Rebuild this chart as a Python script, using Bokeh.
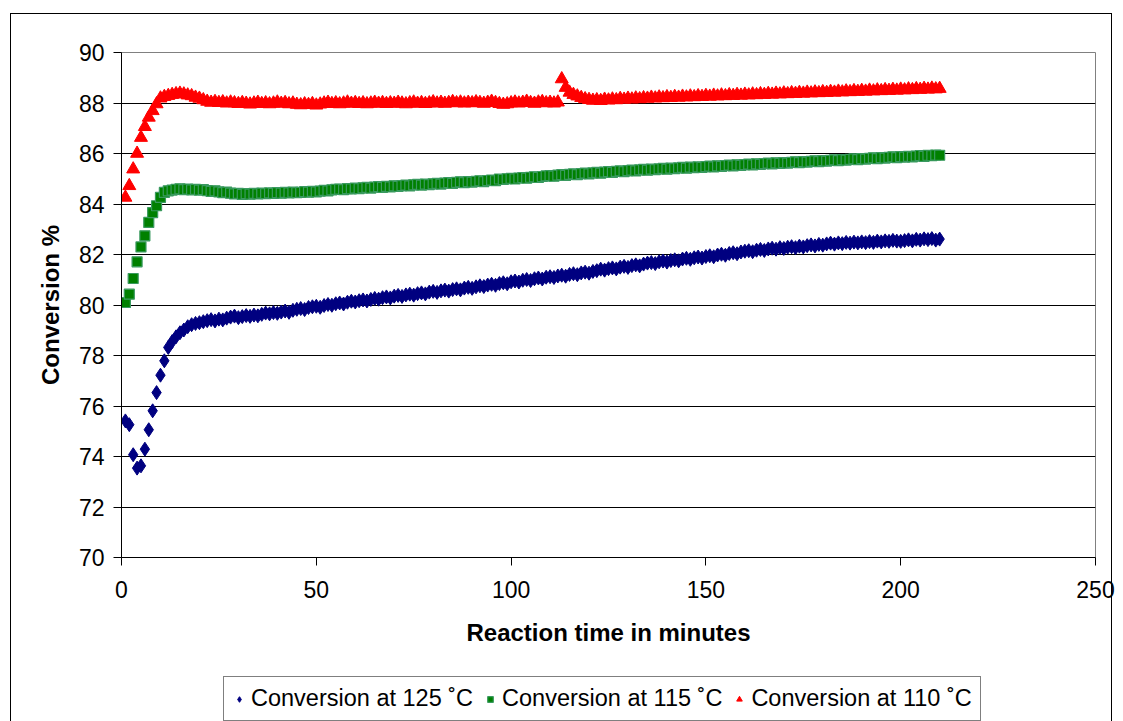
from bokeh.plotting import figure
from bokeh.layouts import column
from bokeh.models import Range1d, FixedTicker, Legend, LegendItem, InlineStyleSheet
from bokeh.embed import file_html
from bokeh.resources import INLINE

# Reaction time (minutes), one reading per minute
time_min = list(range(1, 211))

# Conversion % at 125 °C
conv_125 = [
    75.41, 75.26, 74.07, 73.54, 73.63, 74.29, 75.06, 75.81, 76.53, 77.22,
    77.79, 78.32, 78.55, 78.74, 78.90, 79.01, 79.14, 79.22, 79.27, 79.30,
    79.34, 79.38, 79.42, 79.37, 79.44, 79.41, 79.48, 79.52, 79.56, 79.50,
    79.54, 79.58, 79.55, 79.60, 79.57, 79.63, 79.68, 79.65, 79.70, 79.67,
    79.72, 79.76, 79.71, 79.79, 79.83, 79.86, 79.82, 79.90, 79.93, 79.95,
    79.91, 79.98, 80.02, 79.99, 80.05, 80.08, 80.04, 80.11, 80.15, 80.12,
    80.17, 80.20, 80.16, 80.22, 80.26, 80.23, 80.29, 80.32, 80.28, 80.35,
    80.38, 80.34, 80.40, 80.43, 80.39, 80.45, 80.48, 80.44, 80.51, 80.54,
    80.50, 80.56, 80.59, 80.55, 80.61, 80.64, 80.60, 80.67, 80.70, 80.66,
    80.72, 80.76, 80.73, 80.79, 80.82, 80.78, 80.85, 80.88, 80.84, 80.92,
    80.95, 80.91, 80.98, 81.01, 80.97, 81.04, 81.07, 81.03, 81.10, 81.12,
    81.09, 81.15, 81.18, 81.14, 81.21, 81.24, 81.20, 81.27, 81.30, 81.26,
    81.33, 81.36, 81.42, 81.38, 81.44, 81.47, 81.43, 81.50, 81.53, 81.49,
    81.56, 81.59, 81.55, 81.62, 81.66, 81.68, 81.64, 81.71, 81.74, 81.70,
    81.76, 81.79, 81.75, 81.82, 81.85, 81.81, 81.87, 81.90, 81.86, 81.92,
    81.95, 81.91, 81.98, 82.01, 81.97, 82.04, 82.07, 82.03, 82.10, 82.13,
    82.15, 82.11, 82.17, 82.20, 82.16, 82.22, 82.25, 82.21, 82.27, 82.24,
    82.29, 82.31, 82.27, 82.33, 82.30, 82.35, 82.38, 82.34, 82.40, 82.37,
    82.42, 82.45, 82.41, 82.46, 82.43, 82.48, 82.45, 82.49, 82.46, 82.50,
    82.47, 82.51, 82.48, 82.53, 82.50, 82.54, 82.52, 82.56, 82.53, 82.52,
    82.55, 82.58, 82.54, 82.60, 82.57, 82.62, 82.59, 82.63, 82.57, 82.61,
]

# Conversion % at 115 °C
conv_115 = [
    80.10, 80.43, 81.05, 81.71, 82.30, 82.74, 83.27, 83.66, 83.93, 84.26,
    84.46, 84.52, 84.55, 84.58, 84.60, 84.57, 84.59, 84.56, 84.58, 84.55,
    84.57, 84.53, 84.50, 84.52, 84.48, 84.45, 84.47, 84.43, 84.40, 84.42,
    84.38, 84.41, 84.39, 84.42, 84.40, 84.43, 84.41, 84.44, 84.42, 84.45,
    84.43, 84.46, 84.44, 84.47, 84.45, 84.46, 84.49, 84.47, 84.50, 84.48,
    84.51, 84.54, 84.52, 84.56, 84.58, 84.59, 84.57, 84.61, 84.60, 84.63,
    84.61, 84.64, 84.66, 84.63, 84.67, 84.69, 84.66, 84.70, 84.68, 84.72,
    84.70, 84.73, 84.75, 84.72, 84.76, 84.78, 84.75, 84.79, 84.77, 84.80,
    84.82, 84.79, 84.83, 84.85, 84.82, 84.86, 84.88, 84.85, 84.89, 84.87,
    84.90, 84.92, 84.89, 84.93, 84.95, 84.92, 84.99, 84.97, 85.00, 85.02,
    84.99, 85.03, 85.05, 85.02, 85.06, 85.08, 85.05, 85.09, 85.11, 85.12,
    85.10, 85.14, 85.16, 85.13, 85.17, 85.19, 85.16, 85.20, 85.22, 85.19,
    85.23, 85.25, 85.22, 85.26, 85.28, 85.25, 85.29, 85.31, 85.28, 85.32,
    85.34, 85.31, 85.35, 85.37, 85.34, 85.38, 85.36, 85.39, 85.41, 85.38,
    85.42, 85.40, 85.43, 85.45, 85.42, 85.46, 85.44, 85.47, 85.45, 85.48,
    85.50, 85.47, 85.51, 85.49, 85.52, 85.54, 85.51, 85.55, 85.53, 85.56,
    85.58, 85.55, 85.59, 85.57, 85.60, 85.62, 85.59, 85.63, 85.61, 85.64,
    85.62, 85.65, 85.67, 85.64, 85.68, 85.66, 85.69, 85.71, 85.68, 85.72,
    85.70, 85.73, 85.75, 85.72, 85.76, 85.74, 85.77, 85.79, 85.76, 85.80,
    85.78, 85.81, 85.83, 85.80, 85.84, 85.82, 85.85, 85.87, 85.84, 85.88,
    85.86, 85.89, 85.87, 85.90, 85.92, 85.89, 85.93, 85.91, 85.94, 85.93,
]

# Conversion % at 110 °C
conv_110 = [
    84.26, 84.72, 85.38, 86.00, 86.63, 87.06, 87.43, 87.69, 87.96, 88.19,
    88.25, 88.29, 88.33, 88.36, 88.38, 88.35, 88.31, 88.28, 88.22, 88.18,
    88.12, 88.06, 88.02, 88.05, 88.01, 88.04, 87.99, 88.03, 88.00, 87.97,
    88.01, 87.98, 87.95, 87.99, 88.02, 87.97, 88.00, 87.96, 87.99, 88.03,
    87.98, 88.01, 87.96, 87.99, 87.94, 87.92, 87.96, 87.93, 87.97, 87.91,
    87.95, 87.99, 88.02, 87.97, 88.00, 87.96, 87.99, 88.03, 87.98, 88.01,
    87.97, 88.00, 87.96, 87.99, 88.02, 87.98, 88.01, 87.97, 88.00, 87.98,
    88.02, 87.99, 87.96, 88.00, 88.03, 87.98, 88.01, 87.97, 88.00, 88.04,
    87.99, 88.02, 87.98, 88.01, 88.05, 88.00, 88.03, 87.99, 88.02, 88.00,
    88.04, 88.01, 87.98, 88.02, 88.06, 88.01, 87.97, 87.94, 87.96, 88.00,
    88.03, 87.99, 88.02, 88.06, 88.01, 87.98, 88.03, 88.05, 88.00, 88.02,
    87.99, 88.03, 88.95, 88.61, 88.42, 88.33, 88.27, 88.21, 88.16, 88.13,
    88.10, 88.12, 88.09, 88.14, 88.11, 88.15, 88.12, 88.17, 88.14, 88.18,
    88.15, 88.19, 88.16, 88.20, 88.18, 88.22, 88.19, 88.23, 88.20, 88.24,
    88.21, 88.25, 88.22, 88.26, 88.23, 88.27, 88.24, 88.28, 88.25, 88.29,
    88.26, 88.30, 88.27, 88.31, 88.28, 88.32, 88.29, 88.33, 88.30, 88.34,
    88.31, 88.35, 88.32, 88.36, 88.33, 88.37, 88.34, 88.38, 88.35, 88.39,
    88.36, 88.40, 88.37, 88.41, 88.38, 88.42, 88.39, 88.43, 88.40, 88.44,
    88.41, 88.45, 88.42, 88.46, 88.43, 88.47, 88.44, 88.48, 88.45, 88.49,
    88.46, 88.50, 88.47, 88.51, 88.48, 88.52, 88.49, 88.53, 88.50, 88.54,
    88.51, 88.55, 88.52, 88.56, 88.53, 88.57, 88.54, 88.58, 88.55, 88.57,
]

series_labels = ["Conversion at 125 ˚C", "Conversion at 115 ˚C", "Conversion at 110 ˚C"]
x_ticks = [0, 50, 100, 150, 200, 250]
y_ticks = [70, 72, 74, 76, 78, 80, 82, 84, 86, 88, 90]

FONT = "Liberation Sans"

# marker styles shared by the chart and its legend strip
style_125 = dict(marker="diamond", size=14, fill_color="#000080", line_color="#000080")
style_115 = dict(marker="square", size=10, fill_color="#008000", line_color="#3A9A60", line_width=1.2)
style_110 = dict(marker="triangle", size=13, fill_color="#FF0000", line_color="#FF0000")

# thin black border around the whole chart area (open at the bottom edge of the page)
chart_border = InlineStyleSheet(css="""
:host { position: relative; }
:host::after {
  content: ""; position: absolute; left: 10px; top: 13px;
  width: 1102px; height: 740px; border: 1px solid black;
  pointer-events: none; box-sizing: border-box;
}
""")

p = figure(
    width=1123, height=665,
    x_range=Range1d(0, 250), y_range=Range1d(70, 90),
    output_backend="svg", toolbar_location=None,
    min_border_left=121, min_border_right=28,
    min_border_top=52, min_border_bottom=108,
    background_fill_color="white", border_fill_color="white",
)
p.outline_line_color = "#808080"
p.outline_line_width = 1

# grid: horizontal lines only, black
p.xgrid.visible = False
p.ygrid.ticker = FixedTicker(ticks=y_ticks[1:-1])
p.ygrid.grid_line_color = "black"
p.ygrid.grid_line_width = 1

for ax in (p.xaxis[0], p.yaxis[0]):
    ax.axis_line_color = "black"
    ax.major_tick_line_color = "black"
    ax.major_tick_in = 0
    ax.major_tick_out = 8
    ax.minor_tick_line_color = None
    ax.major_label_text_font = FONT
    ax.major_label_text_font_size = "23px"
    ax.major_label_text_color = "black"
    ax.axis_label_text_font = FONT
    ax.axis_label_text_font_size = "24px"
    ax.axis_label_text_font_style = "bold"
    ax.axis_label_text_color = "black"

p.xaxis.ticker = FixedTicker(ticks=x_ticks)
p.yaxis.ticker = FixedTicker(ticks=y_ticks)
p.xaxis.axis_label = "Reaction time in minutes"
p.yaxis.axis_label = "Conversion %"
p.xaxis.major_label_standoff = 15
p.xaxis.axis_label_standoff = 18
p.yaxis.major_label_standoff = 9
p.yaxis.axis_label_standoff = 12

p.scatter(time_min, conv_125, **style_125)
p.scatter(time_min, conv_115, **style_115)
p.scatter(time_min, conv_110, **style_110)

# legend strip beneath the chart; its frame is aligned with the chart's frame,
# and the series themselves fall outside its 0..1 view so only the key shows
leg = figure(
    width=1123, height=56, x_range=Range1d(0, 1), y_range=Range1d(0, 1),
    output_backend="svg", toolbar_location=None,
    x_axis_location=None, y_axis_location=None,
    min_border=0, outline_line_color=None,
    background_fill_color="white", border_fill_color="white",
)
leg.grid.visible = False
k125 = leg.scatter(time_min, conv_125, **style_125)
k115 = leg.scatter(time_min, conv_115, **style_115)
k110 = leg.scatter(time_min, conv_110, **style_110)

legend = Legend(
    items=[LegendItem(label=series_labels[0], renderers=[k125]),
           LegendItem(label=series_labels[1], renderers=[k115]),
           LegendItem(label=series_labels[2], renderers=[k110])],
    orientation="horizontal", location=(102, 0),
    border_line_color="black", border_line_width=1,
    label_text_font=FONT, label_text_font_size="23.5px", label_text_color="black",
    glyph_width=14, glyph_height=20, label_standoff=5, spacing=10,
    padding=8, margin=0,
)
leg.add_layout(legend)

page = column(p, leg, spacing=0, stylesheets=[chart_border])

open("out.html", "w").write(file_html(page, INLINE))
